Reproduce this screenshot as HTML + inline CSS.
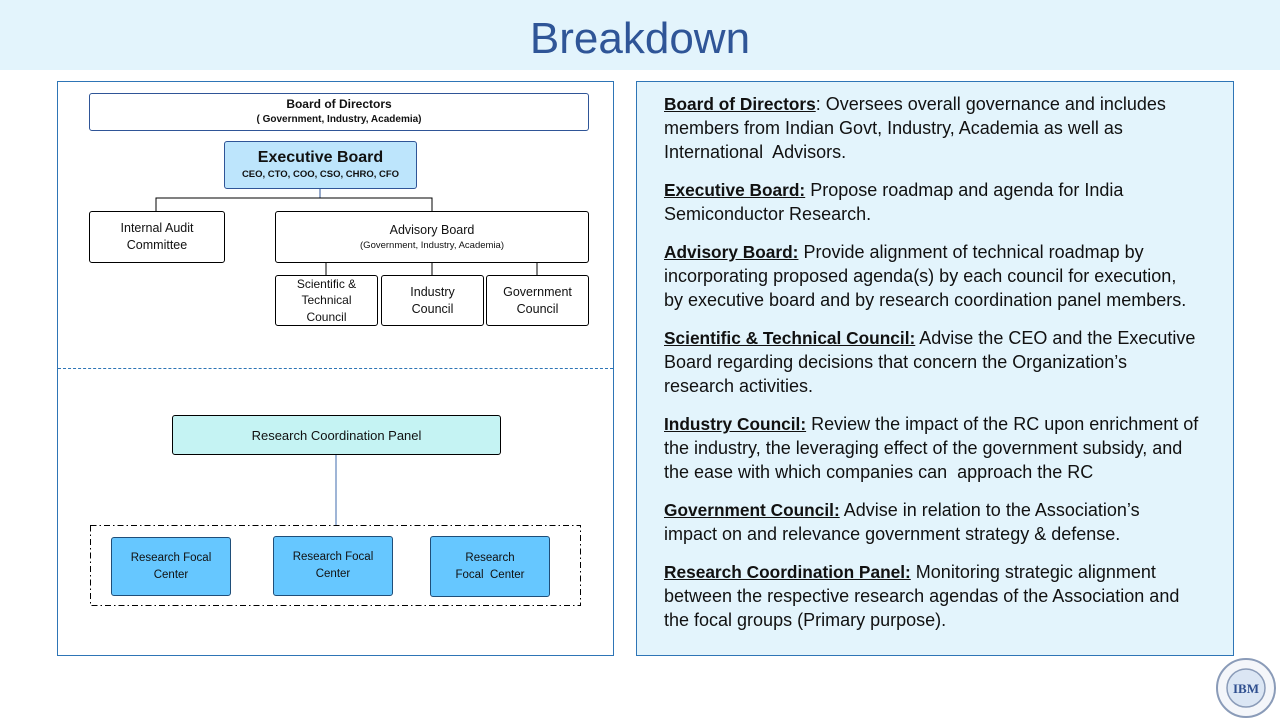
<!DOCTYPE html>
<html><head><meta charset="utf-8"><style>
body{margin:0;width:1280px;height:720px;background:#fff;position:relative;overflow:hidden;font-family:"Liberation Sans",sans-serif;}
.abs{position:absolute;box-sizing:border-box;}
.box{position:absolute;box-sizing:border-box;border:1px solid #000;border-radius:3px;background:#fff;display:flex;flex-direction:column;align-items:center;justify-content:center;text-align:center;color:#111;font-size:12.5px;line-height:17px;}
.rt p{margin:0 0 14px 0;white-space:nowrap;}
.rt b{text-decoration:underline;font-size:17.3px;}
</style></head><body>
<div class="abs" style="left:0;top:0;width:1280px;height:70px;background:#e3f4fc;"></div>
<div class="abs" style="left:0;top:13px;width:1280px;text-align:center;font-size:44px;color:#2f5597;line-height:52px;">Breakdown</div>

<div class="abs" style="left:57px;top:81px;width:557px;height:575px;border:1px solid #2e75b6;"></div>
<div class="abs" style="left:58px;top:368px;width:555px;border-top:1px dashed #2e75b6;"></div>

<svg class="abs" style="left:0;top:0" width="1280" height="720">
<g stroke="#000" stroke-width="1" fill="none">
<line x1="320" y1="189" x2="320" y2="198" stroke="#2f5597"/>
<polyline points="156,211 156,198 432,198 432,211"/>
<line x1="326" y1="262" x2="326" y2="275"/>
<line x1="432" y1="262" x2="432" y2="275"/>
<line x1="537" y1="262" x2="537" y2="275"/>
<line x1="336" y1="454" x2="336" y2="525" stroke="#7f9cc9" stroke-width="1.5"/>
<rect x="90.5" y="525.5" width="490" height="80" stroke-dasharray="6,3,1.5,3"/>
</g></svg>

<div class="box" style="left:89px;top:93px;width:500px;height:38px;border-color:#2f5597;font-size:12px;line-height:15px;"><b>Board of Directors</b><b style="font-size:10px;">( Government, Industry, Academia)</b></div>
<div class="box" style="left:224px;top:141px;width:193px;height:48px;background:#bde5fc;border-color:#2f5597;"><b style="font-size:16px;line-height:20px;">Executive Board</b><b style="font-size:9.5px;line-height:14px;">CEO, CTO, COO, CSO, CHRO, CFO</b></div>
<div class="box" style="left:89px;top:211px;width:136px;height:52px;">Internal Audit<br>Committee</div>
<div class="box" style="left:275px;top:211px;width:314px;height:52px;">Advisory Board<span style="font-size:9.5px;line-height:13px;">(Government, Industry, Academia)</span></div>
<div class="box" style="left:275px;top:275px;width:103px;height:51px;font-size:12px;line-height:16.5px;">Scientific &amp;<br>Technical<br>Council</div>
<div class="box" style="left:381px;top:275px;width:103px;height:51px;">Industry<br>Council</div>
<div class="box" style="left:486px;top:275px;width:103px;height:51px;">Government<br>Council</div>

<div class="box" style="left:172px;top:415px;width:329px;height:40px;background:#c5f3f3;font-size:13px;">Research Coordination Panel</div>
<div class="box" style="left:111px;top:537px;width:120px;height:59px;background:#66c7ff;border-color:#1f4e79;font-size:11.5px;">Research Focal<br>Center</div>
<div class="box" style="left:273px;top:536px;width:120px;height:60px;background:#66c7ff;border-color:#1f4e79;font-size:11.5px;">Research Focal<br>Center</div>
<div class="box" style="left:430px;top:536px;width:120px;height:61px;background:#66c7ff;border-color:#1f4e79;font-size:11.5px;">Research<br>Focal&nbsp; Center</div>

<div class="abs rt" style="left:636px;top:81px;width:598px;height:575px;background:#e3f4fc;border:1px solid #2e75b6;padding:10px 10px 0 27px;font-size:18px;line-height:24px;color:#111;">
<p><b>Board of Directors</b>: Oversees overall governance and includes<br>members from Indian Govt, Industry, Academia as well as<br>International&nbsp; Advisors.</p>
<p><b>Executive Board:</b> Propose roadmap and agenda for India<br>Semiconductor Research.</p>
<p><b>Advisory Board:</b> Provide alignment of technical roadmap by<br>incorporating proposed agenda(s) by each council for execution,<br>by executive board and by research coordination panel members.</p>
<p><b>Scientific &amp; Technical Council:</b> Advise the CEO and the Executive<br>Board regarding decisions that concern the Organization’s<br>research activities.</p>
<p><b>Industry Council:</b> Review the impact of the RC upon enrichment of<br>the industry, the leveraging effect of the government subsidy, and<br>the ease with which companies can&nbsp; approach the RC</p>
<p><b>Government Council:</b> Advise in relation to the Association’s<br>impact on and relevance government strategy &amp; defense.</p>
<p><b>Research Coordination Panel:</b> Monitoring strategic alignment<br>between the respective research agendas of the Association and<br>the focal groups (Primary purpose).</p>
</div>

<svg class="abs" style="left:1215px;top:657px" width="62" height="62">
<circle cx="31" cy="31" r="29" fill="#f4f6fa" stroke="#8a9bb8" stroke-width="2"/>
<circle cx="31" cy="31" r="19" fill="#dbe6f4" stroke="#8a9bb8" stroke-width="1.5"/>
<text x="31" y="36" font-family="Liberation Serif" font-weight="bold" font-size="13" fill="#2f4f8f" text-anchor="middle">IBM</text>
</svg>
</body></html>
